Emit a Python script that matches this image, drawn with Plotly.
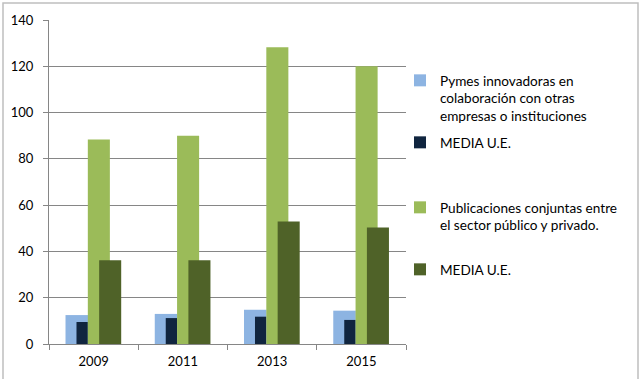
import plotly.graph_objects as go

years = ["2009", "2011", "2013", "2015"]
pymes = [12.5, 13.0, 14.8, 14.4]
pymes_ue = [9.5, 11.2, 11.8, 10.4]
publicaciones = [88.4, 90.0, 128.2, 120.0]
publicaciones_ue = [36.2, 36.2, 52.9, 50.3]
y_ticks = [0, 20, 40, 60, 80, 100, 120, 140]

names = [
    "Pymes innovadoras en<br>colaboración con otras<br>empresas o instituciones",
    "MEDIA U.E.",
    "Publicaciones conjuntas entre<br>el sector público y privado.",
    "MEDIA U.E.",
]
colors = ["#8DB4E2", "#10253F", "#9BBB59", "#4F6228"]
offsets = [-0.315, -0.192, -0.065, 0.062]
widths = [0.253, 0.127, 0.247, 0.247]
series = [pymes, pymes_ue, publicaciones, publicaciones_ue]

W, H = 643, 379
L, R, T, B = 49, 406, 20, 344

def px_x(p):
    return (p - L) / (R - L)

def px_y(p):
    return (B - p) / (B - T)

fig = go.Figure()
legend_names = ["legend", "legend2", "legend3", "legend4"]
for i in range(4):
    fig.add_trace(go.Bar(
        x=years, y=series[i], name=names[i],
        marker=dict(color=colors[i], line=dict(width=0)),
        offset=offsets[i], width=widths[i],
        legend=legend_names[i],
    ))

legend_top_px = [65, 127, 192, 254]
font = dict(family="Lato", size=13.6, color="#000000")
leg_common = dict(x=px_x(400), xanchor="left", yanchor="top",
                  font=font, bgcolor="rgba(0,0,0,0)", borderwidth=0,
                  valign="top", itemwidth=30, tracegroupgap=0)
layout_legends = {}
for i, ln in enumerate(legend_names):
    layout_legends[ln] = dict(y=px_y(legend_top_px[i]), **leg_common)

tickfont = dict(family="Lato", size=13, color="#000")
fig.update_layout(
    width=W, height=H,
    margin=dict(l=L, r=W - R, t=T, b=H - B, autoexpand=False),
    barmode="overlay",
    plot_bgcolor="white", paper_bgcolor="white",
    font=font,
    showlegend=True,
    xaxis=dict(
        type="category", showline=True, linecolor="#868686", linewidth=1,
        ticks="outside", ticklen=5, tickcolor="#868686", tickson="boundaries",
        showgrid=False, tickfont=tickfont, ticklabelstandoff=5, automargin=False,
    ),
    yaxis=dict(
        range=[0, 140], tickvals=y_ticks, showline=True, linecolor="#868686",
        linewidth=1, ticks="outside", ticklen=5, tickcolor="#868686",
        showgrid=True, gridcolor="#868686", gridwidth=1, zeroline=False,
        tickfont=tickfont, ticklabelstandoff=7, automargin=False,
    ),
    shapes=[dict(type="rect", xref="paper", yref="paper",
                 x0=px_x(3), x1=px_x(638), y0=px_y(3), y1=px_y(400),
                 line=dict(color="#BFBFBF", width=1.5), fillcolor="rgba(0,0,0,0)",
                 layer="below")],
    **layout_legends,
)

fig.write_html("out.html")
